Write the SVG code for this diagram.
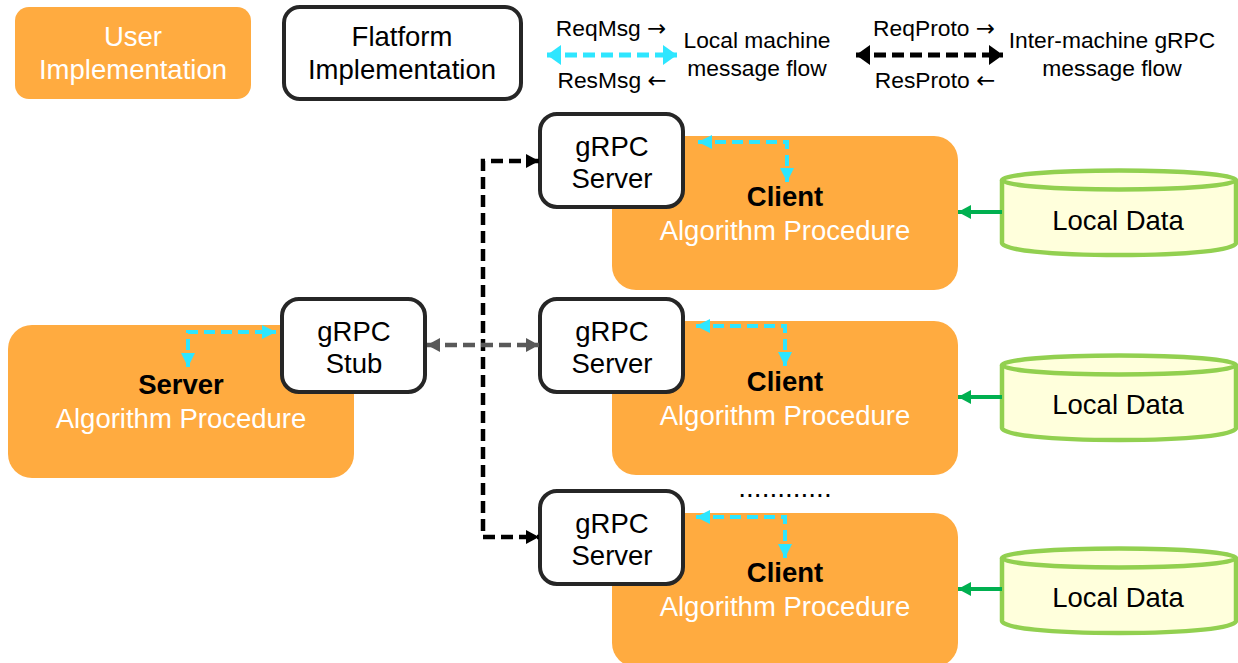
<svg xmlns="http://www.w3.org/2000/svg" width="1238" height="663" viewBox="0 0 1238 663">
<defs>
<marker id="ac" markerUnits="userSpaceOnUse" markerWidth="16" markerHeight="16" refX="14" refY="8" orient="auto-start-reverse"><path d="M0 1L14 8L0 15z" fill="#2ee6ff"/></marker>
<marker id="ak" markerUnits="userSpaceOnUse" markerWidth="16" markerHeight="16" refX="13" refY="8" orient="auto-start-reverse"><path d="M0 1L13 8L0 15z" fill="#000"/></marker>
<marker id="ag" markerUnits="userSpaceOnUse" markerWidth="16" markerHeight="16" refX="13" refY="8" orient="auto-start-reverse"><path d="M0 1L13 8L0 15z" fill="#595959"/></marker>
<marker id="ae" markerUnits="userSpaceOnUse" markerWidth="16" markerHeight="16" refX="13" refY="8" orient="auto"><path d="M0 1L13 8L0 15z" fill="#00b050"/></marker>
<marker id="lc" markerUnits="userSpaceOnUse" markerWidth="16" markerHeight="22" refX="14" refY="11" orient="auto-start-reverse"><path d="M0 1L14 11L0 21z" fill="#2ee6ff"/></marker>
<marker id="lk" markerUnits="userSpaceOnUse" markerWidth="16" markerHeight="22" refX="14" refY="11" orient="auto-start-reverse"><path d="M0 1L14 11L0 21z" fill="#000"/></marker>
</defs>
<style>
text{font-family:"Liberation Sans",Arial,sans-serif;font-size:27.500px;text-anchor:middle;fill:#000}
.w{fill:#fff}
.b{font-weight:bold}
.s{font-size:22.800px}
.a{font-family:"DejaVu Sans",sans-serif}
.o{fill:#ffab40}
.f{fill:#fff;stroke:#262626;stroke-width:4}
.c{fill:none;stroke:#2ee6ff;stroke-width:4;stroke-dasharray:11 6}
.k{fill:none;stroke:#000;stroke-width:4.500;stroke-dasharray:12 6}
.g{fill:none;stroke:#595959;stroke-width:4.500;stroke-dasharray:12 6}
.lc{fill:none;stroke:#2ee6ff;stroke-width:5;stroke-dasharray:12 6}
.lk{fill:none;stroke:#000;stroke-width:5;stroke-dasharray:12 6}
.db{fill:#ffffdc;stroke:#92d050;stroke-width:4.500}
.e{stroke:#00b050;stroke-width:4;fill:none}
</style>
<g id="legend-user"><rect class="o" x="15" y="7" width="236" height="92" rx="14"/><text class="w" x="133" y="46">User</text><text class="w" x="133" y="79">Implementation</text></g>
<g id="legend-platform"><rect class="f" x="284" y="7" width="237" height="92" rx="16"/><text x="402" y="46">Flatform</text><text x="402" y="79">Implementation</text></g>
<g id="legend-local"><text class="s" x="611" y="36">ReqMsg <tspan class="a">→</tspan></text><text class="s" x="612" y="88">ResMsg <tspan class="a">←</tspan></text><text class="s" x="757" y="48">Local machine</text><text class="s" x="757" y="76">message flow</text></g>
<g id="legend-grpc"><text class="s" x="934" y="36">ReqProto <tspan class="a">→</tspan></text><text class="s" x="935" y="88">ResProto <tspan class="a">←</tspan></text><text class="s" x="1112" y="48">Inter-machine gRPC</text><text class="s" x="1112" y="76">message flow</text></g>
<g id="server"><rect class="o" x="8" y="325" width="346" height="153" rx="24"/><text class="b" x="181" y="394">Server</text><text class="w" x="181" y="428">Algorithm Procedure</text></g>
<g id="client1"><rect class="o" x="612" y="136" width="346" height="154" rx="24"/><text class="b" x="785" y="206">Client</text><text class="w" x="785" y="240">Algorithm Procedure</text></g>
<g id="client2"><rect class="o" x="612" y="321" width="346" height="154" rx="24"/><text class="b" x="785" y="391">Client</text><text class="w" x="785" y="425">Algorithm Procedure</text></g>
<g id="client3"><rect class="o" x="612" y="513" width="346" height="154" rx="24"/><text class="b" x="785" y="582">Client</text><text class="w" x="785" y="616">Algorithm Procedure</text></g>
<g id="stub"><rect class="f" x="282" y="299" width="143" height="93" rx="17"/><text x="354" y="341">gRPC</text><text x="354" y="373">Stub</text></g>
<g id="grpc-server1"><rect class="f" x="540" y="114" width="143" height="93" rx="17"/><text x="612" y="156">gRPC</text><text x="612" y="188">Server</text></g>
<g id="grpc-server2"><rect class="f" x="540" y="299" width="143" height="93" rx="17"/><text x="612" y="341">gRPC</text><text x="612" y="373">Server</text></g>
<g id="grpc-server3"><rect class="f" x="540" y="491" width="143" height="93" rx="17"/><text x="612" y="533">gRPC</text><text x="612" y="565">Server</text></g>
<g id="data1"><path class="db" d="M1002 180V243C1002 250 1050 255 1119 255S1236 250 1236 243V180"/><ellipse class="db" cx="1119" cy="180" rx="117" ry="9.500"/><text x="1118" y="230">Local Data</text></g>
<g id="data2"><path class="db" d="M1002 365V428C1002 435 1050 440 1119 440S1236 435 1236 428V365"/><ellipse class="db" cx="1119" cy="365" rx="117" ry="9.500"/><text x="1118" y="414">Local Data</text></g>
<g id="data3"><path class="db" d="M1002 558V621C1002 628 1050 633 1119 633S1236 628 1236 621V558"/><ellipse class="db" cx="1119" cy="558" rx="117" ry="9.500"/><text x="1118" y="607">Local Data</text></g>
<text x="785" y="497" style="font-size:28px">............</text>
<g id="connectors">
<path class="lc" d="M547 55H677" marker-start="url(#lc)" marker-end="url(#lc)"/>
<path class="lk" d="M856 55H1003" marker-start="url(#lk)" marker-end="url(#lk)"/>
<path class="k" d="M539 161H483V537H539" marker-start="url(#ak)" marker-end="url(#ak)"/>
<path class="g" d="M427 345H539" marker-start="url(#ag)" marker-end="url(#ag)"/>
<path class="c" d="M188 367V332H276" marker-start="url(#ac)" marker-end="url(#ac)"/>
<path class="c" d="M698 142H787V182" marker-start="url(#ac)" marker-end="url(#ac)"/>
<path class="c" d="M696 326H785V366" marker-start="url(#ac)" marker-end="url(#ac)"/>
<path class="c" d="M696 517H785V558" marker-start="url(#ac)" marker-end="url(#ac)"/>
<path class="e" d="M1002 212H958" marker-end="url(#ae)"/>
<path class="e" d="M1002 397H958" marker-end="url(#ae)"/>
<path class="e" d="M1002 589H958" marker-end="url(#ae)"/>
</g>
</svg>
